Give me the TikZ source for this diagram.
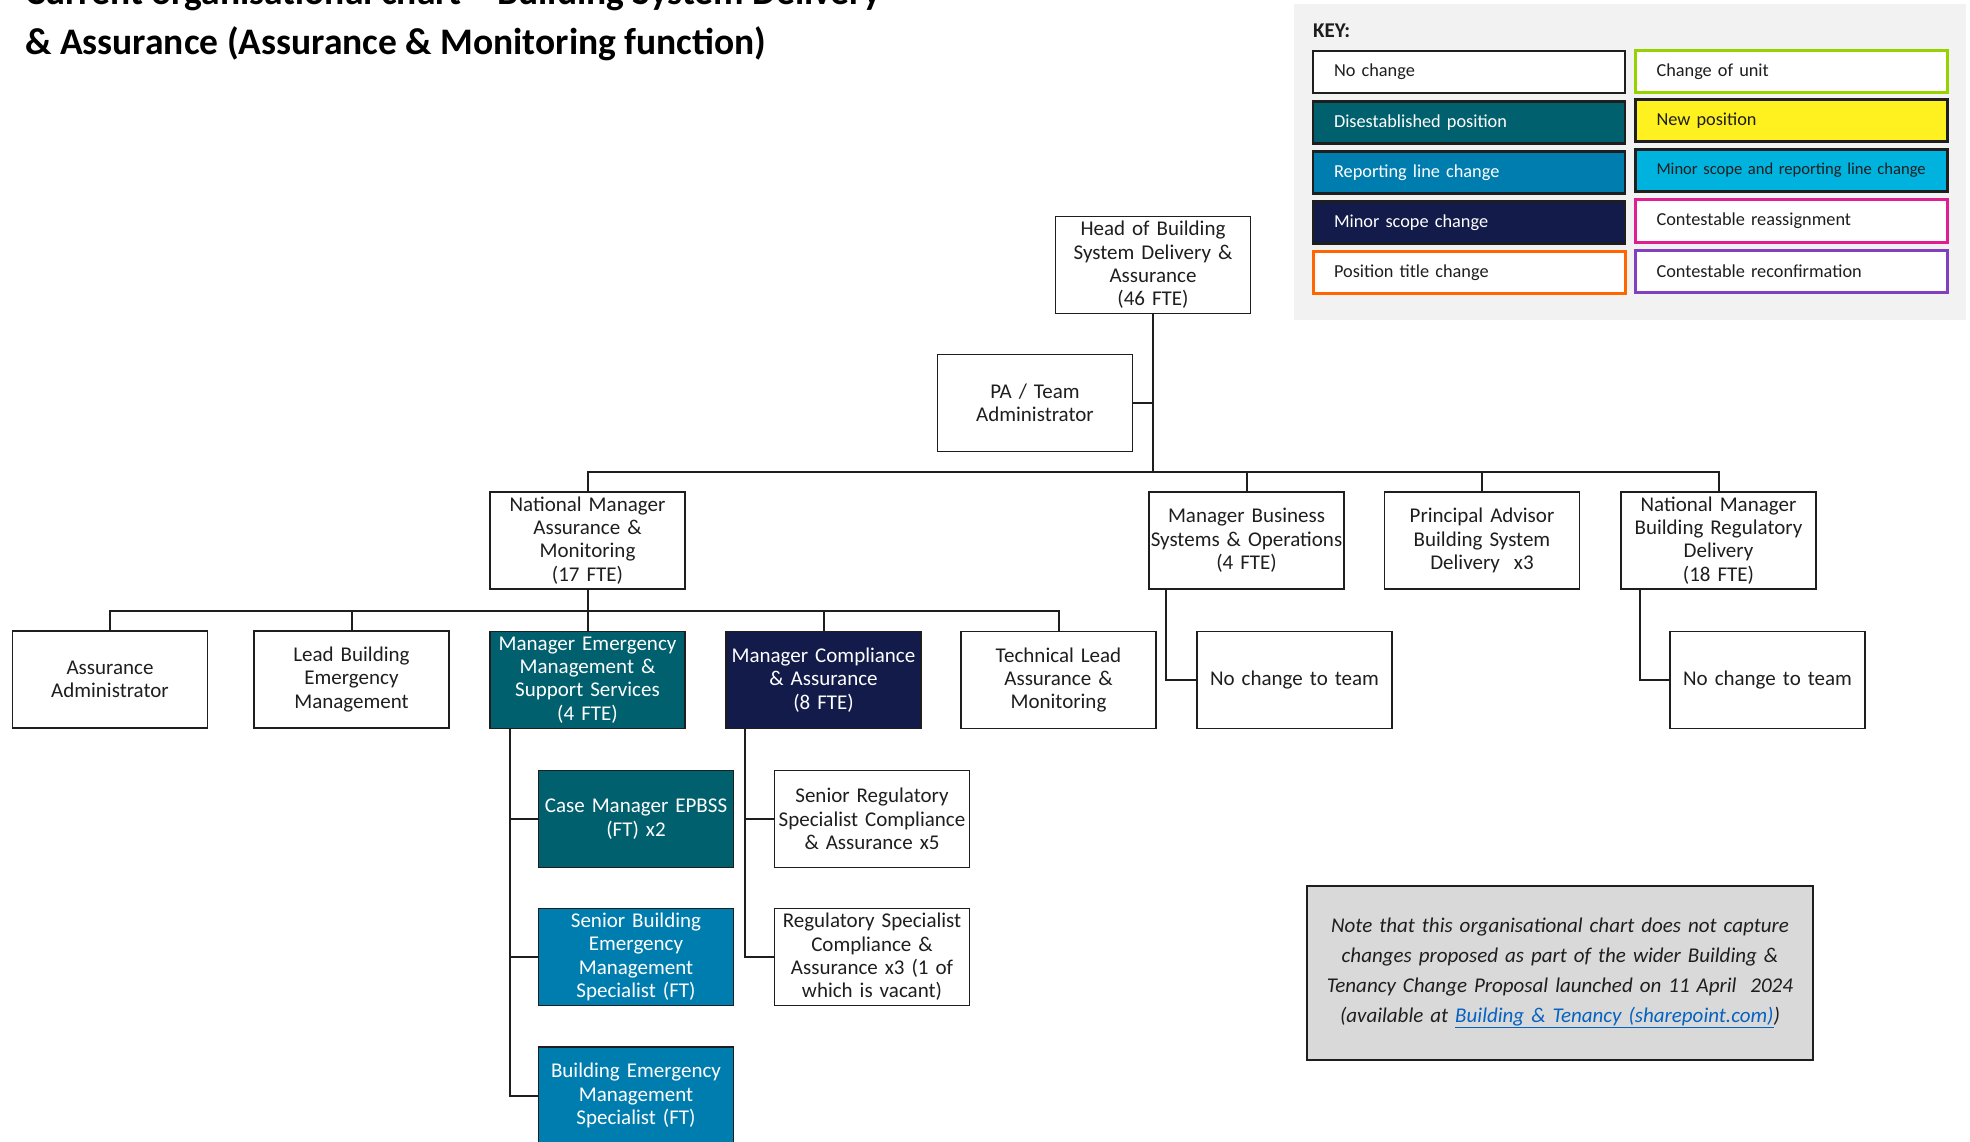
\documentclass[tikz,border=0pt]{standalone}
\usepackage{fontspec}
\setmainfont{Carlito}
\definecolor{disest}{RGB}{0,96,110}
\definecolor{reporting}{RGB}{0,125,175}
\definecolor{minorrep}{RGB}{0,178,222}
\definecolor{navyc}{RGB}{18,27,74}
\definecolor{yellowc}{RGB}{255,240,32}
\definecolor{limec}{RGB}{150,210,0}
\definecolor{magentac}{RGB}{225,30,145}
\definecolor{orangec}{RGB}{255,102,0}
\definecolor{purplec}{RGB}{128,64,192}
\definecolor{keybgc}{RGB}{242,242,242}
\definecolor{notebgc}{RGB}{217,217,217}
\definecolor{linkblue}{RGB}{5,99,193}
\definecolor{inkc}{RGB}{30,30,30}
\newcommand{\chartfont}{\fontsize{21}{23.3}\selectfont}
\newcommand{\keyfont}{\fontsize{18.3}{21}\selectfont}
\tikzset{
  box/.style={draw=inkc, line width=1.6pt, minimum width=195pt, minimum height=97pt,
    text width=193pt, align=center, inner sep=1pt, font=\chartfont, text=inkc},
  darkbox/.style={box, text=white},
  conn/.style={line width=2pt, draw=inkc},
  keybox/.style={draw=inkc, line width=2.2pt, minimum height=42pt, text width=270pt,
    inner xsep=21pt, inner ysep=0pt, align=left, font=\keyfont, text=inkc},
  keyw/.style={keybox, text=white},
}
\begin{document}
\begin{tikzpicture}[x=1pt,y=-1pt]
\useasboundingbox (0,0) rectangle (1970,1142);
% title
\node[anchor=base west, inner sep=0pt, font=\fontsize{37.5}{46}\bfseries, text=black] (title1) at (25,5) {Current organisational chart -- Building System Delivery};
\node[anchor=base west, inner sep=0pt, font=\fontsize{37.5}{46}\bfseries, text=black] (title2) at (25,55) {\& Assurance (Assurance \& Monitoring function)};
% key
\node[fill=keybgc, minimum width=672pt, minimum height=316pt, inner sep=0pt, anchor=north west] (keybg) at (1294,4) {};
\node[anchor=west, inner sep=0pt, font=\fontsize{21}{24}\bfseries, text=inkc] (keytitle) at (1313,31) {KEY:};
\node[keybox, fill=white] (k1) at (1469,72) {No change};
\node[keyw, fill=disest] (k2) at (1469,122.5) {Disestablished position};
\node[keyw, fill=reporting] (k3) at (1469,172.5) {Reporting line change};
\node[keyw, fill=navyc] (k4) at (1469,222.5) {Minor scope change};
\node[keybox, fill=white, draw=orangec, line width=3pt] (k5) at (1469,272.5) {Position title change};
\node[keybox, fill=white, draw=limec, line width=3pt] (k6) at (1791.5,72) {Change of unit};
\node[keybox, fill=yellowc] (k7) at (1791.5,120.5) {New position};
\node[keybox, fill=minorrep, font=\fontsize{16.6}{20}\selectfont] (k8) at (1791.5,170.5) {\mbox{Minor scope and reporting line change}};
\node[keybox, fill=white, draw=magentac, line width=3pt] (k9) at (1791.5,221) {Contestable reassignment};
\node[keybox, fill=white, draw=purplec, line width=3pt] (k10) at (1791.5,271) {Contestable reconfirmation};
% chart nodes
\node[box] (head) at (1153,265) {Head of Building\\System Delivery \&\\Assurance\\(46 FTE)};
\node[box] (pa) at (1035,403) {PA / Team\\Administrator};
\node[box] (nma) at (587.5,540.5) {National Manager\\Assurance \&\\Monitoring\\(17 FTE)};
\node[box] (mbs) at (1246.5,540.5) {Manager Business\\Systems \& Operations\\(4 FTE)};
\node[box] (pab) at (1482,540.5) {Principal Advisor\\Building System\\Delivery~~x3};
\node[box] (nmb) at (1718.5,540.5) {National Manager\\Building Regulatory\\Delivery\\(18 FTE)};
\node[box] (aa) at (110,679.5) {Assurance\\Administrator};
\node[box] (lbem) at (351.5,679.5) {Lead Building\\Emergency\\Management};
\node[darkbox, fill=disest] (mem) at (587.5,680) {Manager Emergency\\Management \&\\Support Services\\(4 FTE)};
\node[darkbox, fill=navyc] (mca) at (823.5,680) {Manager Compliance\\\& Assurance\\(8 FTE)};
\node[box] (tla) at (1058.5,680) {Technical Lead\\Assurance \&\\Monitoring};
\node[box] (nct1) at (1294.5,680) {No change to team};
\node[box] (nct2) at (1767.5,680) {No change to team};
\node[darkbox, fill=disest] (cm) at (636,819) {Case Manager EPBSS\\(FT) x2};
\node[darkbox, fill=reporting] (sbem) at (636,957) {Senior Building\\Emergency\\Management\\Specialist (FT)};
\node[darkbox, fill=reporting] (bem) at (636,1095.5) {Building Emergency\\Management\\Specialist (FT)};
\node[box] (srs) at (872,819) {Senior Regulatory\\Specialist Compliance\\\& Assurance x5};
\node[box] (rs) at (872,957) {Regulatory Specialist\\Compliance \&\\Assurance x3 (1 of\\which is vacant)};
% note
\node[draw=inkc, line width=2pt, fill=notebgc, minimum width=506pt, minimum height=174pt,
  text width=490pt, align=center, inner sep=0pt, font=\fontsize{21}{30}\selectfont\itshape, text=inkc] (note) at (1560,973)
  {Note that this organisational chart does not capture\\changes proposed as part of the wider Building \&\\Tenancy Change Proposal launched on 11 April~~2024\\(available at \textcolor{linkblue}{\underline{Building \& Tenancy (sharepoint.com)}})};
% connectors
\coordinate (busA) at (1153,472);
\coordinate (busB) at (587.5,611);
\draw[conn] (head.south) -- (busA);
\draw[conn] (pa.east) -- (pa.east -| head.south);
\draw[conn] (nma.north) |- (busA) -| (nmb.north);
\draw[conn] (mbs.north) -- (mbs.north |- busA);
\draw[conn] (pab.north) -- (pab.north |- busA);
\draw[conn] (nma.south) -- (busB);
\draw[conn] (aa.north) |- (busB) -| (tla.north);
\draw[conn] (lbem.north) -- (lbem.north |- busB);
\draw[conn] (mem.north) -- (mem.north |- busB);
\draw[conn] (mca.north) -- (mca.north |- busB);
\coordinate (mbsx) at ([xshift=18pt]mbs.south west);
\draw[conn] (mbsx) |- (nct1.west);
\coordinate (nmbx) at ([xshift=20pt]nmb.south west);
\draw[conn] (nmbx) |- (nct2.west);
\coordinate (memx) at ([xshift=21pt]mem.south west);
\draw[conn] (memx) |- (bem.west);
\draw[conn] (cm.west) -- (cm.west -| memx);
\draw[conn] (sbem.west) -- (sbem.west -| memx);
\coordinate (mcax) at ([xshift=20pt]mca.south west);
\draw[conn] (mcax) |- (rs.west);
\draw[conn] (srs.west) -- (srs.west -| mcax);
\end{tikzpicture}
\end{document}
